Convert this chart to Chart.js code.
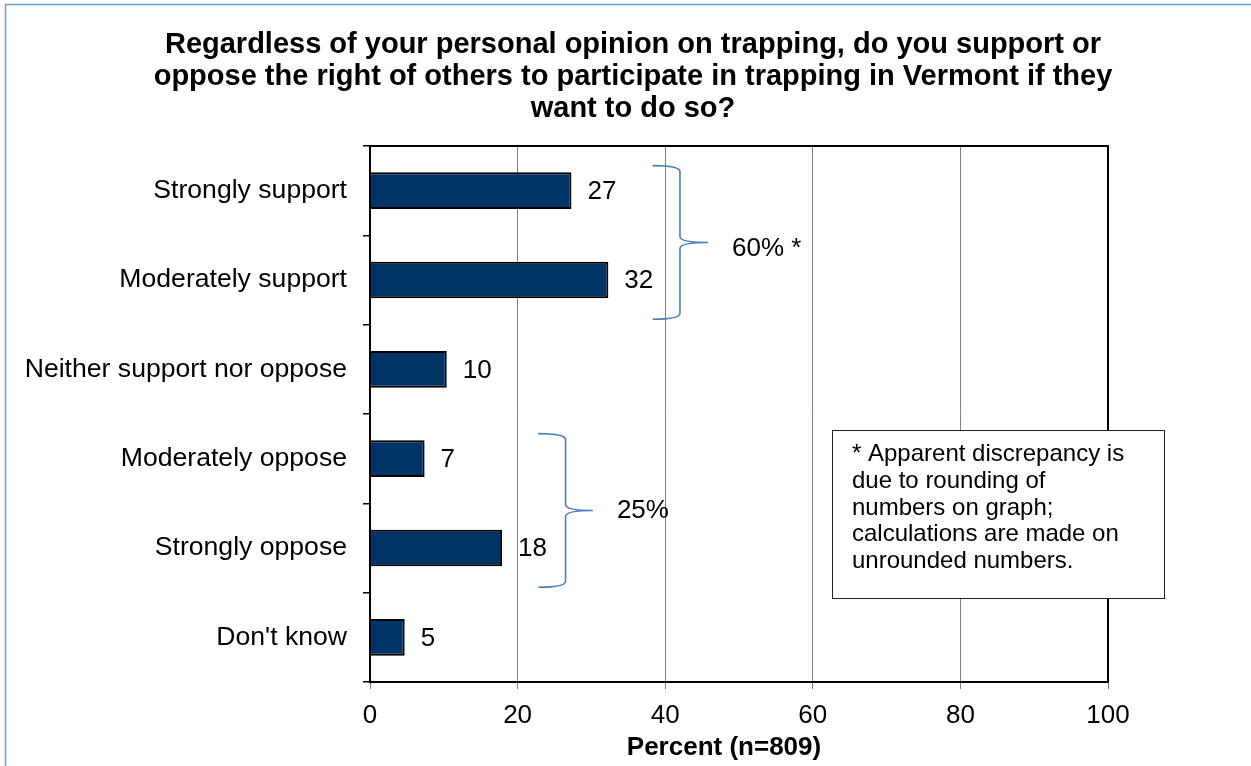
<!DOCTYPE html>
<html><head><meta charset="utf-8">
<script src="https://cdn.jsdelivr.net/npm/chart.js@4.4.1/dist/chart.umd.min.js"></script>
<style>html,body{margin:0;padding:0;background:#fff;overflow:hidden}#wrap{width:1251px;height:766px;position:relative}</style>
</head><body><div id="wrap"><canvas id="c" width="1251" height="766"></canvas></div>
<script>
const categories = ["Strongly support","Moderately support","Neither support nor oppose","Moderately oppose","Strongly oppose","Don't know"];
const percentValues = [27.3, 32.3, 10.4, 7.4, 17.9, 4.7];
const xTickValues = [0, 20, 40, 60, 80, 100];
const titleLines = ["Regardless of your personal opinion on trapping, do you support or","oppose the right of others to participate in trapping in Vermont if they","want to do so?"];
const axisTitle = "Percent (n=809)";
const groupLabels = ["60% *", "25%"];
const groupFirst = [0, 3];
const groupLast = [1, 4];
const noteLines = ["* Apparent discrepancy is","due to rounding of","numbers on graph;","calculations are made on","unrounded numbers."];

const F = '"Liberation Sans", Arial, Helvetica, sans-serif';

function drawBrace(ctx, xL, xM, xR, yT, yB) {
  const yM = (yT + yB) / 2, r = 6;
  ctx.beginPath();
  ctx.moveTo(xL, yT);
  ctx.quadraticCurveTo(xM, yT, xM, yT + r);
  ctx.lineTo(xM, yM - r);
  ctx.quadraticCurveTo(xM, yM, xR, yM);
  ctx.quadraticCurveTo(xM, yM, xM, yM + r);
  ctx.lineTo(xM, yB - r);
  ctx.quadraticCurveTo(xM, yB, xL, yB);
  ctx.stroke();
}

const decorPlugin = {
  id: 'decor',
  beforeDraw(chart) {
    const ctx = chart.ctx;
    ctx.save();
    ctx.fillStyle = '#fff';
    ctx.fillRect(0, 0, chart.width, chart.height);
    ctx.strokeStyle = '#6f9bd4';
    ctx.lineWidth = 1.5;
    ctx.beginPath();
    ctx.moveTo(5.5, chart.height);
    ctx.lineTo(5.5, 4.5);
    ctx.lineTo(chart.width, 4.5);
    ctx.stroke();
    ctx.fillStyle = '#000';
    ctx.font = 'bold 29px ' + F;
    ctx.textAlign = 'center';
    ctx.textBaseline = 'alphabetic';
    const baselines = [53, 85, 117];
    titleLines.forEach((t, i) => ctx.fillText(t, 633, baselines[i]));
    ctx.restore();
  },
  afterDatasetsDraw(chart) {
    const ctx = chart.ctx;
    const xs = chart.scales.x, ys = chart.scales.y, a = chart.chartArea;
    ctx.save();
    ctx.strokeStyle = '#000';
    ctx.lineWidth = 2;
    ctx.beginPath();
    ctx.moveTo(a.left, a.top);
    ctx.lineTo(a.right, a.top);
    ctx.lineTo(a.right, a.bottom);
    ctx.stroke();
    ctx.fillStyle = '#000';
    ctx.font = '26px ' + F;
    ctx.textAlign = 'left';
    ctx.textBaseline = 'middle';
    const meta = chart.getDatasetMeta(0);
    meta.data.forEach((bar, i) => {
      ctx.fillText(String(Math.round(percentValues[i])), bar.x + 16, bar.y + 1);
    });
    // braces (x positions in axis percent units)
    const braceX = [[38.3, 42.0, 45.8], [22.8, 26.5, 30.2]];
    const labelDy = [6, 0];
    ctx.strokeStyle = '#4a7ebb';
    ctx.lineWidth = 1.6;
    groupLabels.forEach((lab, g) => {
      const first = groupFirst[g], last = groupLast[g];
      const yT = ys.getPixelForValue(first - 0.28);
      const yB = ys.getPixelForValue(last + 0.44);
      const xL = xs.getPixelForValue(braceX[g][0]);
      const xM = xs.getPixelForValue(braceX[g][1]);
      const xR = xs.getPixelForValue(braceX[g][2]);
      drawBrace(ctx, xL, xM, xR, yT, yB);
      ctx.fillStyle = '#000';
      ctx.font = '26px ' + F;
      ctx.textBaseline = 'middle';
      ctx.fillText(lab, xR + 24, (yT + yB) / 2 + labelDy[g]);
    });
    // note box
    const bx1 = xs.getPixelForValue(62.6), bx2 = xs.getPixelForValue(107.6);
    const by1 = ys.getPixelForValue(2.68), by2 = ys.getPixelForValue(4.56);
    ctx.fillStyle = '#fff';
    ctx.fillRect(bx1, by1, bx2 - bx1, by2 - by1);
    ctx.strokeStyle = '#222';
    ctx.lineWidth = 1;
    ctx.strokeRect(Math.round(bx1) + 0.5, Math.round(by1) + 0.5, Math.round(bx2 - bx1), Math.round(by2 - by1));
    ctx.fillStyle = '#000';
    ctx.font = '24px ' + F;
    ctx.textBaseline = 'alphabetic';
    noteLines.forEach((t, i) => ctx.fillText(t, bx1 + 20, by1 + 31 + i * 26.8));
    ctx.font = 'bold 26px ' + F;
    ctx.textAlign = 'center';
    ctx.fillText(axisTitle, (a.left + a.right) / 2 - 15, 755);
    ctx.restore();
  }
};

new Chart(document.getElementById('c'), {
  type: 'bar',
  data: {
    labels: categories,
    datasets: [{
      data: percentValues,
      backgroundColor: '#003366',
      borderColor: '#000',
      borderWidth: 2,
      barPercentage: 0.41,
      categoryPercentage: 1
    }]
  },
  options: {
    indexAxis: 'y',
    responsive: false,
    animation: false,
    devicePixelRatio: 1,
    layout: { padding: { top: 146, right: 143, left: 0, bottom: 0 } },
    plugins: { legend: { display: false }, title: { display: false }, tooltip: { enabled: false } },
    scales: {
      x: {
        min: 0, max: 100,
        afterBuildTicks(s) { s.ticks = xTickValues.map(v => ({ value: v })); },
        ticks: { font: { size: 26, family: F }, color: '#000', padding: 11, maxRotation: 0 },
        grid: { color: '#808080', lineWidth: 1, tickLength: 7, tickColor: '#808080' },
        border: { display: true, color: '#000', width: 2 },
        afterFit(s) { s.height = 84; }
      },
      y: {
        ticks: { font: { size: 26.6, family: F }, color: '#000', padding: 16 },
        grid: { drawOnChartArea: false, tickLength: 7, tickColor: '#000', lineWidth: 1.5, offset: true },
        border: { display: true, color: '#000', width: 2 },
        afterFit(s) { s.width = 370; }
      }
    }
  },
  plugins: [decorPlugin]
});
</script>
</body></html>
